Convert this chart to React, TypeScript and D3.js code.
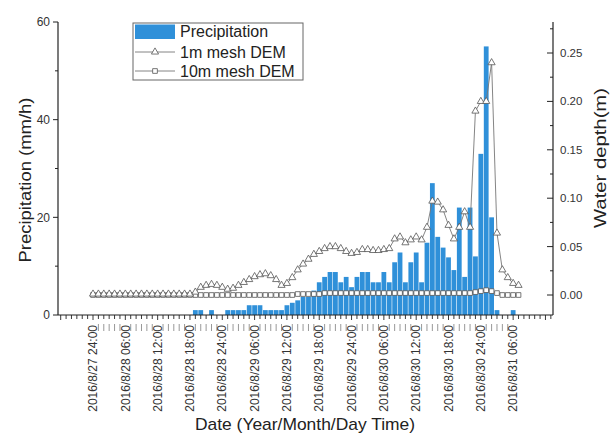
import React from 'react';
import * as d3 from 'd3';

// hourly series, index 0 = 2016/8/27 24:00
const precipitation = [
  0, 0, 0, 0, 0, 0, 0, 0, 0, 0,
  0, 0, 0, 0, 0, 0, 0, 0, 0, 1,
  1, 0, 1, 0, 0, 1, 1, 1, 1, 2,
  2, 2, 1, 1, 1, 1, 2, 2.5, 3, 3.7,
  3.7, 5, 6.7, 7.8, 8.8, 8.8, 6.7, 7.8, 5.7, 7.8,
  8.8, 8.8, 6.7, 6.7, 8.8, 6.7, 10.8, 12.8, 6.7, 10.8,
  12.8, 6.7, 14.8, 27, 16, 13.8, 11.8, 9.2, 22, 7.8,
  22, 12, 33, 55, 20, 1, 0, 0, 1, 0,
];

const depth1m = [
  0.001, 0.001, 0.001, 0.001, 0.001, 0.001, 0.001, 0.001, 0.001, 0.001,
  0.001, 0.001, 0.001, 0.001, 0.001, 0.001, 0.001, 0.001, 0.001, 0.003,
  0.008, 0.01, 0.011, 0.01, 0.008, 0.006, 0.007, 0.01, 0.013, 0.016,
  0.019, 0.021, 0.022, 0.02, 0.016, 0.01, 0.012, 0.018, 0.026, 0.032,
  0.037, 0.042, 0.045, 0.048, 0.05, 0.05, 0.048, 0.045, 0.043, 0.044,
  0.047, 0.047, 0.046, 0.046, 0.047, 0.048, 0.058, 0.06, 0.054, 0.057,
  0.06, 0.057, 0.07, 0.097, 0.096, 0.088, 0.072, 0.058, 0.07, 0.086,
  0.07, 0.19, 0.2, 0.2, 0.24, 0.064, 0.026, 0.018, 0.012, 0.01,
];

const depth10m = [
  0, 0, 0, 0, 0, 0, 0, 0, 0, 0,
  0, 0, 0, 0, 0, 0, 0, 0, 0, 0,
  0, 0, 0, 0, 0, 0, 0, 0, 0, 0,
  0, 0, 0, 0, 0, 0, 0, 0, 0.001, 0.001,
  0.001, 0.001, 0.001, 0.002, 0.002, 0.002, 0.002, 0.002, 0.002, 0.002,
  0.002, 0.002, 0.002, 0.002, 0.002, 0.002, 0.002, 0.002, 0.002, 0.002,
  0.002, 0.002, 0.002, 0.002, 0.002, 0.002, 0.002, 0.002, 0.002, 0.002,
  0.002, 0.003, 0.004, 0.005, 0.004, 0.002, 0, 0, 0, 0,
];

const xTickLabels = [
  '2016/8/27 24:00', '2016/8/28 06:00', '2016/8/28 12:00', '2016/8/28 18:00',
  '2016/8/28 24:00', '2016/8/29 06:00', '2016/8/29 12:00', '2016/8/29 18:00',
  '2016/8/29 24:00', '2016/8/30 06:00', '2016/8/30 12:00', '2016/8/30 18:00',
  '2016/8/30 24:00', '2016/8/31 06:00',
];
const labelStepHours = 6;
const leftTicks = [0, 20, 40, 60];
const leftMinor = [10, 30, 50];
const rightTicks = [0, 0.05, 0.1, 0.15, 0.2, 0.25];
const rightMinor = [0.025, 0.075, 0.125, 0.175, 0.225, 0.275];

const legendItems = ['Precipitation', '1m mesh DEM', '10m mesh DEM'];

const FONT = '"Liberation Sans", Arial, sans-serif';
const BAR = '#2f90d9';
const LINE = '#777';
const MARK = '#555';

export default function App() {
  const x = d3.scaleLinear().domain([-6.5, 85.4]).range([58, 553]);
  const yL = d3.scaleLinear().domain([0, 60]).range([315, 22]);
  const yR = d3.scaleLinear().domain([0, 0.25]).range([295, 53]);
  const plotTop = 22;
  const plotBottom = 315;

  const line = d3
    .line<number>()
    .x((_, i) => x(i))
    .y((d) => yR(d));

  const tri = d3.symbol(d3.symbolTriangle, 22)() as string;
  const sq = d3.symbol(d3.symbolSquare, 22)() as string;

  const hourTicks = d3.range(Math.ceil(x.domain()[0]), Math.floor(x.domain()[1]) + 1);
  const lastLabelHour = (xTickLabels.length - 1) * labelStepHours;

  return (
    <svg
      width={611}
      height={439}
      style={{ position: 'absolute', left: 0, top: 0, background: '#fff' }}
      fontFamily={FONT}
    >
      <rect x={0} y={0} width={611} height={439} fill="#fff" />

      {/* bars */}
      {precipitation.map((v, i) =>
        v > 0 ? (
          <rect
            key={'b' + i}
            x={x(i - 0.5) + 0.3}
            y={yL(v)}
            width={x(i + 0.5) - x(i - 0.5) - 0.6}
            height={yL(0) - yL(v)}
            fill={BAR}
          />
        ) : null
      )}

      {/* lines */}
      <path d={line(depth10m) as string} fill="none" stroke={LINE} strokeWidth={0.9} />
      <path d={line(depth1m) as string} fill="none" stroke={LINE} strokeWidth={0.9} />
      {depth10m.map((v, i) => (
        <path
          key={'s' + i}
          d={sq}
          transform={`translate(${x(i)},${yR(v)})`}
          fill="#fff"
          stroke={MARK}
          strokeWidth={0.8}
        />
      ))}
      {depth1m.map((v, i) => (
        <path
          key={'t' + i}
          d={tri}
          transform={`translate(${x(i)},${yR(v)})`}
          fill="#fff"
          stroke={MARK}
          strokeWidth={0.8}
        />
      ))}

      {/* left axis */}
      <line x1={58} x2={58} y1={plotTop} y2={plotBottom} stroke="#222" strokeWidth={1.2} />
      {leftTicks.map((t) => (
        <g key={'lt' + t}>
          <line x1={53} x2={58} y1={yL(t)} y2={yL(t)} stroke="#222" />
          <text x={50} y={yL(t)} dy="0.35em" textAnchor="end" fontSize={12} fill="#333">
            {t}
          </text>
        </g>
      ))}
      {leftMinor.map((t) => (
        <line key={'lm' + t} x1={55} x2={58} y1={yL(t)} y2={yL(t)} stroke="#222" />
      ))}
      <text
        transform={`translate(31,180) rotate(-90)`}
        textAnchor="middle"
        fontSize={16}
        fill="#222"
        textLength={165}
        lengthAdjust="spacingAndGlyphs"
      >
        Precipitation (mm/h)
      </text>

      {/* right axis */}
      <line x1={553} x2={553} y1={plotTop} y2={plotBottom} stroke="#222" strokeWidth={1.2} />
      {rightTicks.map((t) => (
        <g key={'rt' + t}>
          <line x1={547} x2={553} y1={yR(t)} y2={yR(t)} stroke="#222" />
          <text x={560} y={yR(t)} dy="0.35em" textAnchor="start" fontSize={11.5} fill="#333">
            {t.toFixed(2)}
          </text>
        </g>
      ))}
      {rightMinor.map((t) => (
        <line key={'rm' + t} x1={550} x2={553} y1={yR(t)} y2={yR(t)} stroke="#222" />
      ))}
      <text
        transform={`translate(606,158) rotate(-90)`}
        textAnchor="middle"
        fontSize={16}
        fill="#222"
        textLength={140}
        lengthAdjust="spacingAndGlyphs"
      >
        Water depth(m)
      </text>

      {/* bottom axis */}
      <line x1={58} x2={553} y1={plotBottom} y2={plotBottom} stroke="#222" strokeWidth={1.2} />
      {hourTicks.map((h) => (
        <line
          key={'xt' + h}
          x1={x(h)}
          x2={x(h)}
          y1={plotBottom}
          y2={plotBottom + (h % labelStepHours === 0 ? 5 : 4)}
          stroke="#222"
          strokeWidth={0.9}
        />
      ))}
      {hourTicks
        .filter((h) => h > 0 && h < lastLabelHour && h % labelStepHours !== 0)
        .map((h) => (
          <line
            key={'xm' + h}
            x1={x(h)}
            x2={x(h)}
            y1={324}
            y2={331}
            stroke="#999"
            strokeWidth={1}
          />
        ))}
      {xTickLabels.map((lab, i) => (
        <text
          key={'xl' + i}
          transform={`translate(${x(i * labelStepHours)},325) rotate(-90)`}
          dy="0.35em"
          textAnchor="end"
          fontSize={12}
          fill="#333"
        >
          {lab}
        </text>
      ))}
      <text
        x={305}
        y={430}
        textAnchor="middle"
        fontSize={17}
        fill="#222"
        textLength={220}
        lengthAdjust="spacingAndGlyphs"
      >
        Date (Year/Month/Day Time)
      </text>

      {/* legend */}
      <rect x={133} y={23} width={170} height={57} fill="#fff" stroke="#666" strokeWidth={1} />
      <rect x={135} y={24.5} width={40} height={14.5} fill={BAR} />
      <line x1={135} x2={175} y1={52} y2={52} stroke={LINE} strokeWidth={0.9} />
      <path d={tri} transform="translate(155,52)" fill="#fff" stroke={MARK} strokeWidth={0.8} />
      <line x1={135} x2={175} y1={71} y2={71} stroke={LINE} strokeWidth={0.9} />
      <path d={sq} transform="translate(155,71)" fill="#fff" stroke={MARK} strokeWidth={0.8} />
      {legendItems.map((t, i) => (
        <text key={'lg' + i} x={180} y={[37, 58, 77][i]} fontSize={16} fill="#222">
          {t}
        </text>
      ))}
    </svg>
  );
}
